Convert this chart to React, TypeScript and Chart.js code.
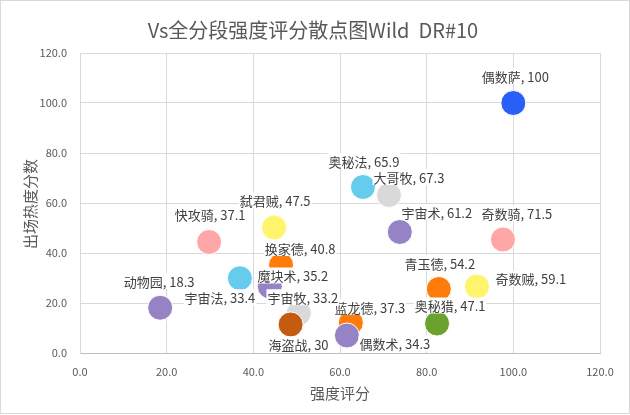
import React, { useEffect, useRef } from 'react';
import { Chart, registerables } from 'chart.js';

Chart.register(...registerables);

const FONT = '"Noto Sans CJK SC", "Noto Sans", sans-serif';

const chartTitle = 'Vs全分段强度评分散点图Wild  DR#10';
const xAxisTitle = '强度评分';
const yAxisTitle = '出场热度分数';

// deck names (draw order)
const names = [
  '偶数萨', '奥秘法', '大哥牧', '宇宙术', '奇数骑', '青玉德', '奇数贼', '奥秘猎', '蓝龙德',
  '偶数术', '快攻骑', '弑君贼', '换家德', '宇宙法', '魔块术', '宇宙牧', '动物园', '海盗战',
];
// x: 强度评分
const strength = [
  100, 65.3, 71.3, 73.8, 97.6, 82.8, 91.6, 82.4, 62.5,
  61.6, 29.8, 44.8, 46.4, 36.9, 43.8, 50.5, 18.5, 48.6,
];
// y: 出场热度分数
const heat = [
  100, 66.4, 63.2, 48.4, 45.4, 25.6, 26.6, 11.8, 12.1,
  7.0, 44.4, 50.2, 35.2, 29.9, 26.6, 15.9, 18.1, 11.4,
];
// label values
const scores = [
  '100', '65.9', '67.3', '61.2', '71.5', '54.2', '59.1', '47.1', '37.3',
  '34.3', '37.1', '47.5', '40.8', '33.4', '35.2', '33.2', '18.3', '30',
];
const colors = [
  '#2A60F8', '#66CCEE', '#D9D9D9', '#9683C6', '#FFA6A6', '#FF7C0A', '#FFF46B', '#6BA22E', '#FF7C0A',
  '#9683C6', '#FFA6A6', '#FFF46B', '#FF7C0A', '#66CCEE', '#9683C6', '#D9D9D9', '#9683C6', '#C55A11',
];
// label nudges relative to the marker (layout only)
const labelOffsets: [number, number][] = [
  [2, -27], [1, -26], [20, -18], [37, -20], [14, -26], [1, -26], [54, -8], [13, -18], [19, -16],
  [48, 8], [1, -28], [1, -27], [19, -17], [-20, 19], [23, -11], [4, -16], [-1, -27], [8, 20],
];

const axisMin = 0;
const axisMax = 120;
const axisStep = 20;

export default function App() {
  const ref = useRef<HTMLCanvasElement>(null);

  useEffect(() => {
    document.body.style.margin = '0';
    const canvas = ref.current;
    if (!canvas) return;

    const labelPlugin = {
      id: 'pointLabels',
      afterDatasetsDraw(chart: any) {
        const ctx = chart.ctx;
        const meta = chart.getDatasetMeta(0);
        ctx.save();
        ctx.font = `13px ${FONT}`;
        ctx.textAlign = 'center';
        ctx.textBaseline = 'middle';
        meta.data.forEach((el: any, i: number) => {
          const { x, y } = el.getProps(['x', 'y'], true);
          const text = `${names[i]}, ${scores[i]}`;
          const cx = x + labelOffsets[i][0];
          const cy = y + labelOffsets[i][1];
          const w = ctx.measureText(text).width;
          ctx.fillStyle = '#ffffff';
          ctx.fillRect(cx - w / 2 - 1, cy - 8, w + 2, 16);
          ctx.fillStyle = '#404040';
          ctx.fillText(text, cx, cy + 1);
        });
        ctx.restore();
      },
    };

    const framePlugin = {
      id: 'frame',
      beforeDraw(chart: any) {
        const ctx = chart.ctx;
        ctx.save();
        ctx.fillStyle = '#ffffff';
        ctx.fillRect(0, 0, chart.width, chart.height);
        ctx.restore();
      },
      afterDraw(chart: any) {
        const ctx = chart.ctx;
        const area = chart.chartArea;
        ctx.save();
        ctx.strokeStyle = '#D9D9D9';
        ctx.lineWidth = 1;
        ctx.strokeRect(0.5, 0.5, 629, 413);
        // chart title
        ctx.fillStyle = '#595959';
        ctx.textAlign = 'center';
        ctx.textBaseline = 'middle';
        ctx.font = `20px ${FONT}`;
        ctx.fillText(chartTitle, 313, 30);
        // y axis title
        ctx.font = `15px ${FONT}`;
        ctx.translate(30, (area.top + area.bottom) / 2 + 1);
        ctx.rotate(-Math.PI / 2);
        ctx.fillText(yAxisTitle, 0, 0);
        ctx.restore();
      },
    };

    const chart = new Chart(canvas, {
      type: 'scatter',
      data: {
        datasets: [
          {
            data: strength.map((x, i) => ({ x, y: heat[i] })),
            backgroundColor: colors,
            borderColor: '#ffffff',
            borderWidth: 1,
            pointRadius: 12.5,
            pointHoverRadius: 12.5,
          },
        ],
      },
      options: {
        responsive: false,
        animation: false,
        layout: { padding: { left: 0, right: 30, top: 53, bottom: 0 } },
        plugins: {
          legend: { display: false },
          tooltip: { enabled: false },
          title: { display: false },
        },
        scales: {
          x: {
            type: 'linear',
            min: axisMin,
            max: axisMax,
            ticks: {
              stepSize: axisStep,
              callback: (v: any) => Number(v).toFixed(1),
              color: '#595959',
              font: { family: FONT, size: 11 },
              padding: 12,
              maxRotation: 0,
            },
            grid: { color: '#D9D9D9', drawTicks: false },
            border: { color: '#BFBFBF' },
            title: {
              display: true,
              text: xAxisTitle,
              color: '#595959',
              font: { family: FONT, size: 15 },
              padding: { top: 0, bottom: 13 },
            },
            afterFit: (s: any) => {
              s.height = 62;
            },
          },
          y: {
            type: 'linear',
            min: axisMin,
            max: axisMax,
            ticks: {
              stepSize: axisStep,
              callback: (v: any) => Number(v).toFixed(1),
              color: '#595959',
              font: { family: FONT, size: 11 },
              padding: 13,
            },
            grid: { color: '#D9D9D9', drawTicks: false },
            border: { color: '#D9D9D9' },
            afterFit: (s: any) => {
              s.width = 80;
            },
          },
        },
      },
      plugins: [framePlugin, labelPlugin],
    } as any);

    return () => chart.destroy();
  }, []);

  return (
    <div style={{ width: 630, height: 415 }}>
      <canvas ref={ref} width={630} height={415} style={{ display: 'block' }} />
    </div>
  );
}
